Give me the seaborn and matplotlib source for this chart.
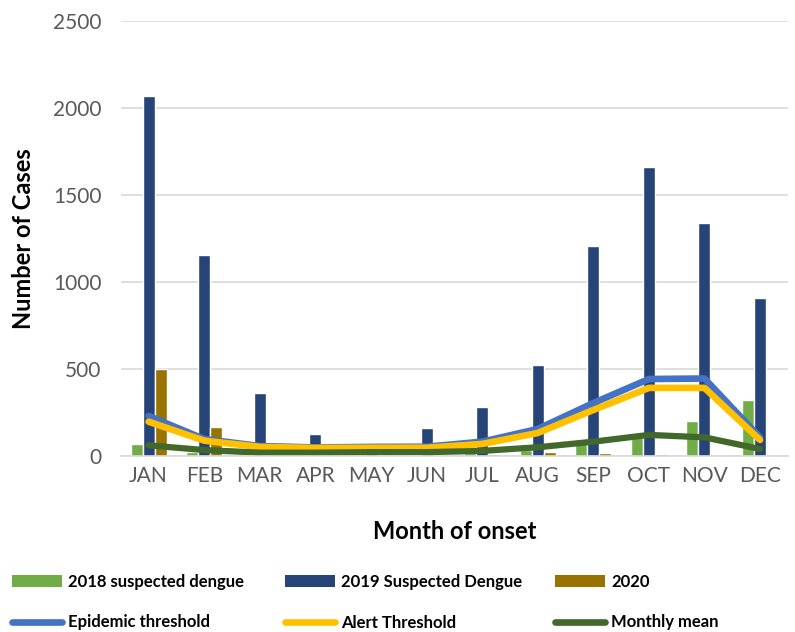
import numpy as np
import pandas as pd
import matplotlib
matplotlib.use("Agg")
import matplotlib.pyplot as plt
import seaborn as sns
from matplotlib.patches import Patch
from matplotlib.lines import Line2D

months = ["JAN", "FEB", "MAR", "APR", "MAY", "JUN", "JUL", "AUG", "SEP", "OCT", "NOV", "DEC"]
cases_2018 = [69, 28, 8, 5, 5, 8, 20, 37, 95, 135, 204, 323]
cases_2019 = [2073, 1158, 363, 127, 75, 161, 282, 523, 1211, 1664, 1342, 909]
cases_2020 = [501, 167, 0, 0, 0, 0, 15, 24, 22, 14, 5, 0]
epidemic = [233, 100, 60, 52, 55, 56, 85, 158, 307, 445, 448, 110]
alert = [200, 91, 55, 49, 50, 50, 72, 135, 267, 394, 394, 95]
monthly_mean = [64, 37, 22, 22, 25, 25, 32, 53, 85, 124, 110, 43]

bar_labels = ["2018 suspected dengue", "2019 Suspected Dengue", "2020"]
line_labels = ["Epidemic threshold", "Alert Threshold", "Monthly mean"]
bar_colors = ["#70AD47", "#264478", "#997300"]
line_colors = ["#4472C4", "#FFC000", "#43682B"]

sns.set_theme(style="white")
plt.rcParams["font.family"] = ["Lato", "DejaVu Sans"]

df = pd.DataFrame({
    "Month": months * 3,
    "Cases": cases_2018 + cases_2019 + cases_2020,
    "Series": [bar_labels[0]] * 12 + [bar_labels[1]] * 12 + [bar_labels[2]] * 12,
})

fig = plt.figure(figsize=(7.95, 6.32), dpi=100)
ax = fig.add_axes([0.152, 0.2777, 0.839, 0.6886])

sns.barplot(data=df, x="Month", y="Cases", hue="Series", order=months,
            hue_order=bar_labels, palette=bar_colors, width=0.65,
            saturation=1, ax=ax, legend=False, errorbar=None)

xs = np.arange(len(months))
for vals, col, lw in zip([epidemic, alert, monthly_mean], line_colors, [4.8, 4.8, 4.5]):
    sns.lineplot(x=xs, y=vals, color=col, linewidth=lw, ax=ax, sort=False,
                 solid_capstyle="round", solid_joinstyle="round", legend=False)

ax.set_xlim(-0.5, 11.5)
ax.set_ylim(0, 2500)
ax.set_yticks([0, 500, 1000, 1500, 2000, 2500])
ax.grid(axis="y", color="#D9D9D9", linewidth=1.2)
ax.set_axisbelow(True)
for s in ["top", "right", "left"]:
    ax.spines[s].set_visible(False)
ax.spines["bottom"].set_color("#D9D9D9")
ax.spines["bottom"].set_linewidth(1.2)
ax.tick_params(axis="both", length=0, labelsize=15, labelcolor="#595959")
ax.tick_params(axis="y", pad=14)
ax.tick_params(axis="x", pad=7)
ax.set_xlabel("Month of onset", fontsize=17, fontweight="bold", color="black", labelpad=24)
ax.set_ylabel("Number of Cases", fontsize=17, fontweight="bold", color="black", labelpad=13)

col_x = [12 / 795, 285 / 795, 555 / 795]
for i in range(3):
    handles = [Patch(facecolor=bar_colors[i], edgecolor="none"),
               Line2D([0], [0], color=line_colors[i], linewidth=4.8, solid_capstyle="round")]
    leg = fig.legend(handles, [bar_labels[i], line_labels[i]], loc="upper left",
                     bbox_to_anchor=(col_x[i], 1 - 574 / 632), frameon=False,
                     handlelength=3.0, handleheight=0.7, handletextpad=0.36,
                     labelspacing=1.47, borderaxespad=0, borderpad=0,
                     prop={"weight": "bold", "size": 12})
    for t in leg.get_texts():
        t.set_color("black")

fig.savefig("out.png", dpi=100)
